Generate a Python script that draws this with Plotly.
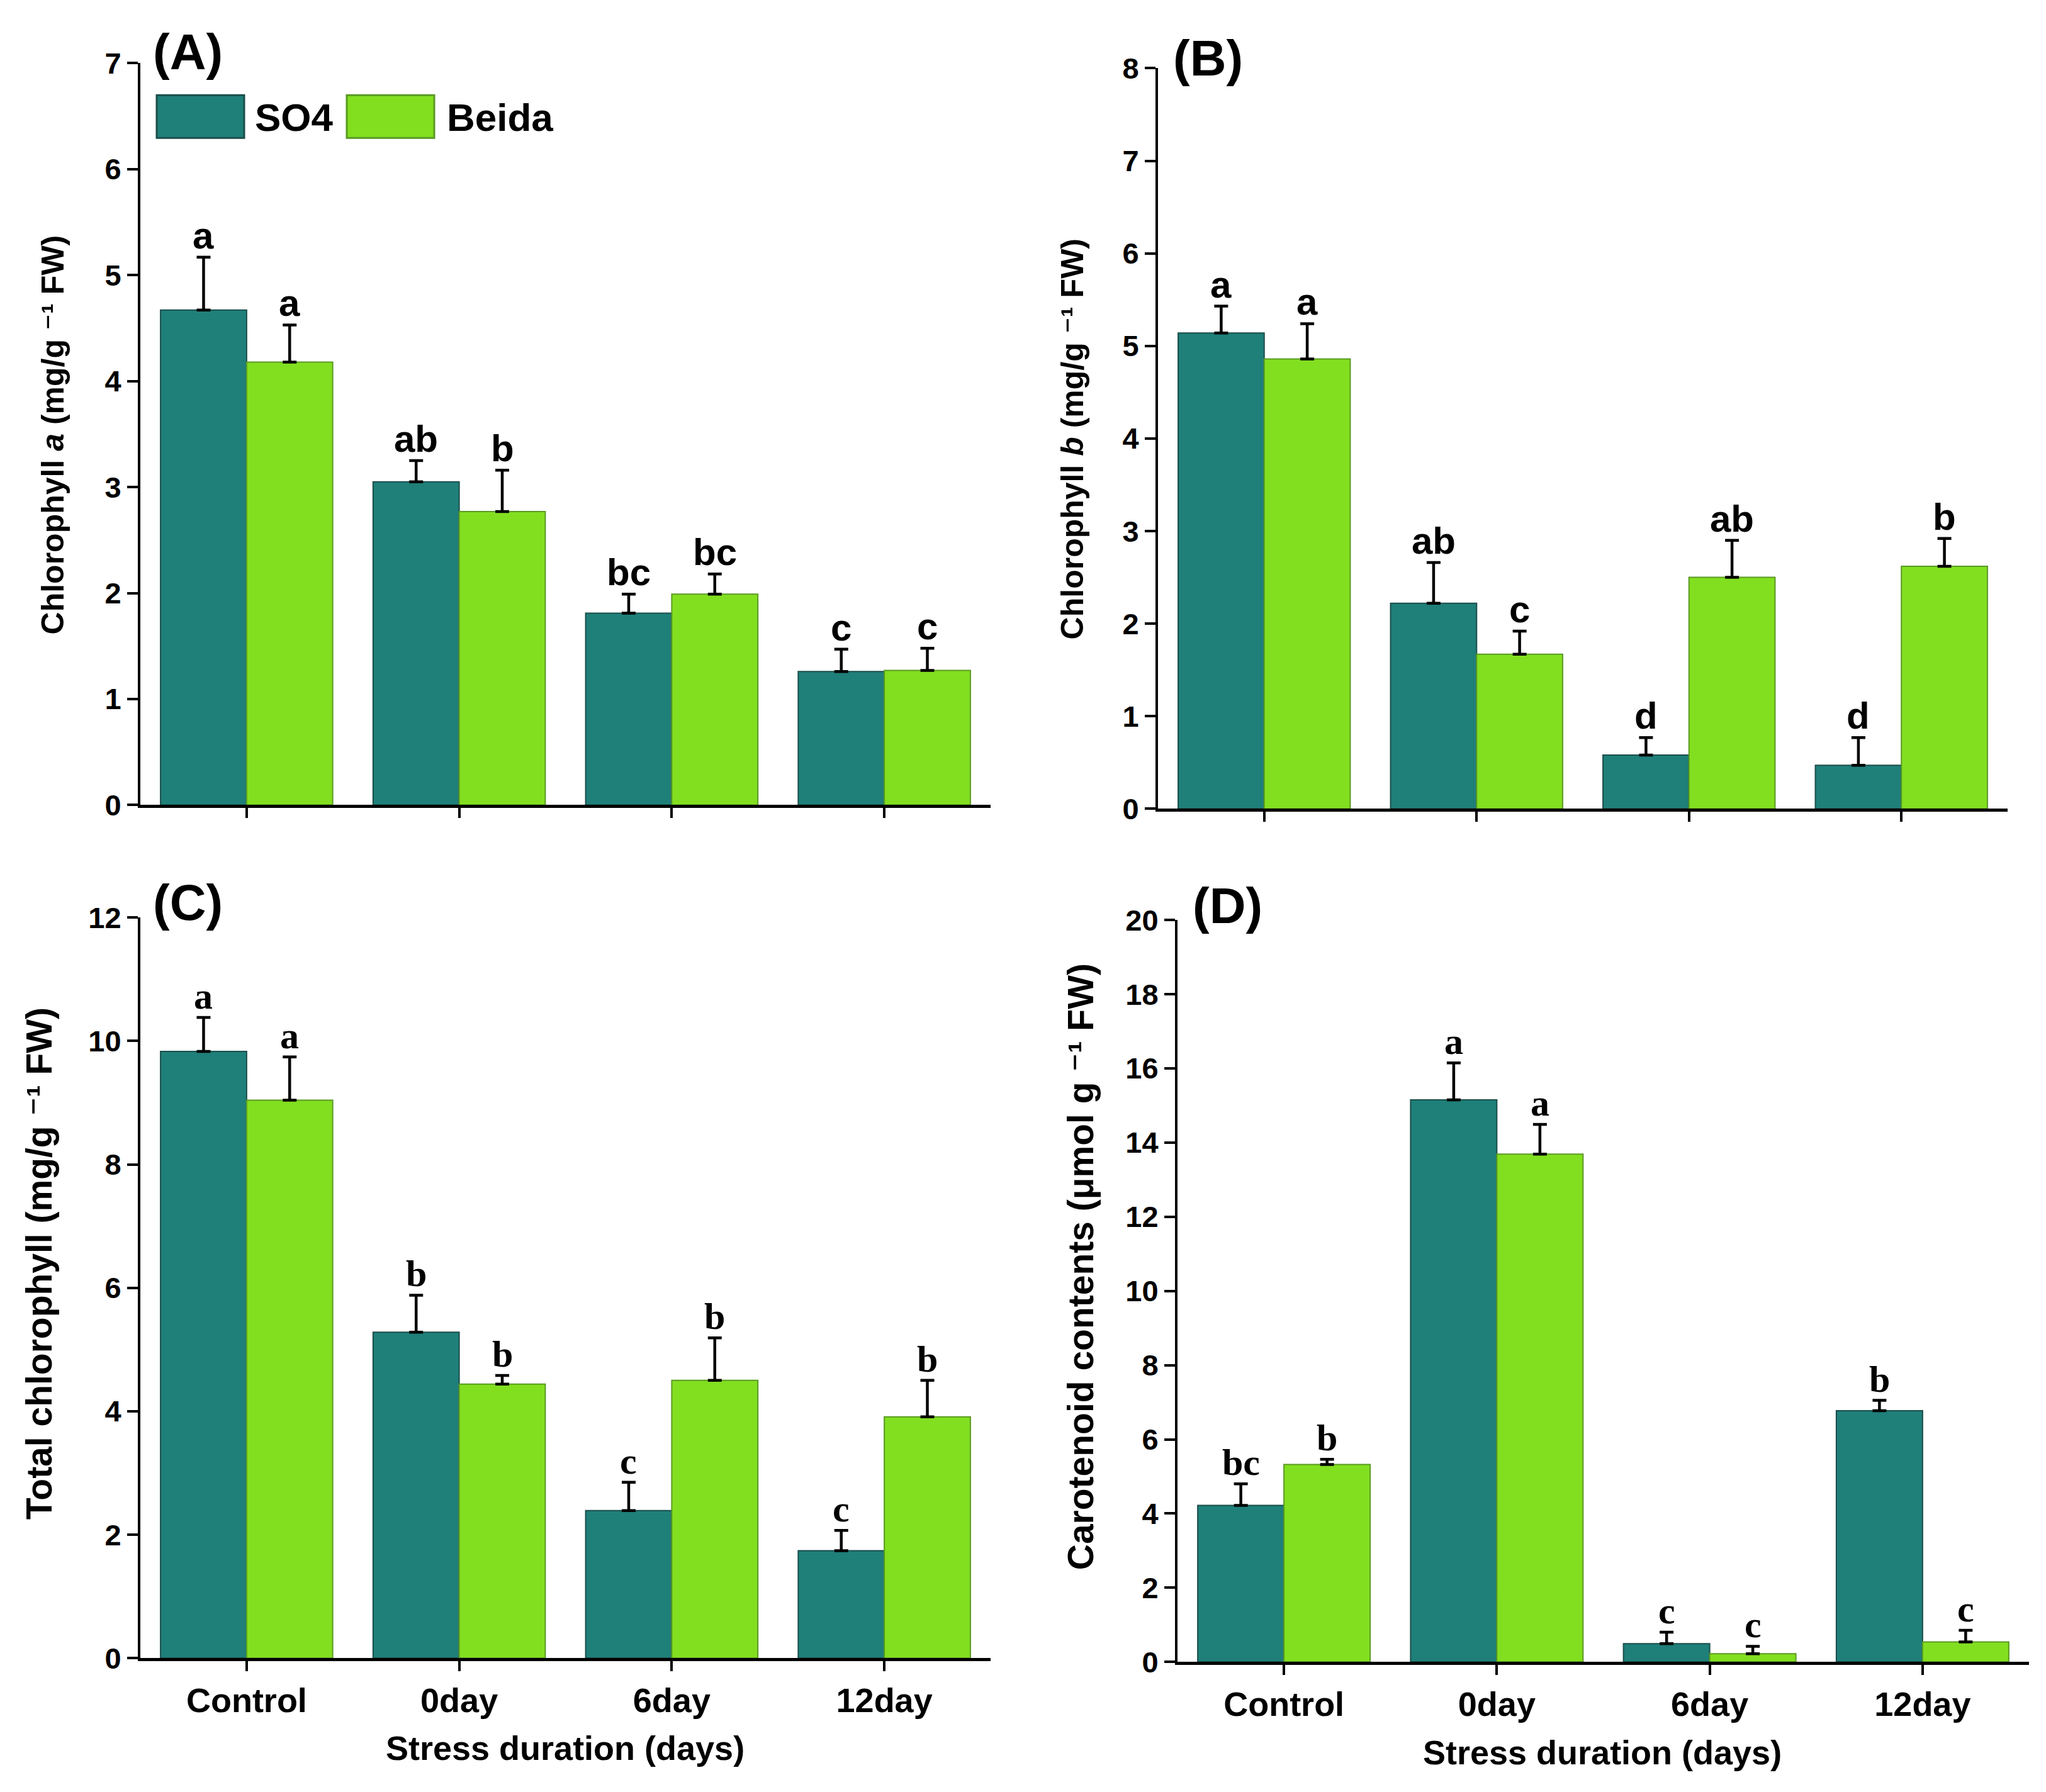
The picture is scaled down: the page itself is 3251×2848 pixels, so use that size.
import plotly.graph_objects as go

# ---------------- data ----------------
categories = ["Control", "0day", "6day", "12day"]

chla_so4 = [4.67, 3.05, 1.81, 1.26]
chla_so4_err = [0.50, 0.20, 0.18, 0.21]
chla_beida = [4.18, 2.77, 1.99, 1.27]
chla_beida_err = [0.35, 0.39, 0.19, 0.21]
chla_so4_let = ["a", "ab", "bc", "c"]
chla_beida_let = ["a", "b", "bc", "c"]

chlb_so4 = [5.14, 2.22, 0.58, 0.47]
chlb_so4_err = [0.29, 0.44, 0.19, 0.30]
chlb_beida = [4.86, 1.67, 2.50, 2.62]
chlb_beida_err = [0.38, 0.25, 0.40, 0.30]
chlb_so4_let = ["a", "ab", "d", "d"]
chlb_beida_let = ["a", "c", "ab", "b"]

tot_so4 = [9.83, 5.28, 2.39, 1.74]
tot_so4_err = [0.55, 0.60, 0.46, 0.33]
tot_beida = [9.04, 4.44, 4.50, 3.91]
tot_beida_err = [0.70, 0.14, 0.69, 0.59]
tot_so4_let = ["a", "b", "c", "c"]
tot_beida_let = ["a", "b", "b", "b"]

car_so4 = [4.22, 15.15, 0.49, 6.77]
car_so4_err = [0.58, 1.00, 0.31, 0.28]
car_beida = [5.32, 13.69, 0.22, 0.54]
car_beida_err = [0.14, 0.80, 0.20, 0.31]
car_so4_let = ["bc", "a", "c", "b"]
car_beida_let = ["b", "a", "c", "c"]

series_names = ["SO4", "Beida"]

# ---------------- style ----------------
W, H = 3251, 2848
C_SO4 = "#1f7f79"
C_BEIDA = "#82df20"
L_SO4 = "#1b4e4b"
L_BEIDA = "#5a9a22"
SANS = "Arial, Liberation Sans, DejaVu Sans, sans-serif"
SERIF = "Times New Roman, Liberation Serif, serif"
BARGAP = 0.19


def px(x):
    return (x - 8) / W


def py(y):
    return 1 - (1.0173 * y - 35.1) / H


panels = [
    dict(key="", so4=chla_so4, so4e=chla_so4_err, be=chla_beida, bee=chla_beida_err,
         ls=chla_so4_let, lb=chla_beida_let, ymax=7, dtick=1, xd=(223, 1574), yd=(1281, 100),
         lfont=SANS, labels=False, label="(A)", lab_xy=(241, 82),
         ytitle="Chlorophyll <i>a</i> (mg/g ⁻¹ FW)", yt_xy=(84, 692), ytsize=50),
    dict(key="2", so4=chlb_so4, so4e=chlb_so4_err, be=chlb_beida, bee=chlb_beida_err,
         ls=chlb_so4_let, lb=chlb_beida_let, ymax=8, dtick=1, xd=(1840, 3190), yd=(1287, 108),
         lfont=SANS, labels=False, label="(B)", lab_xy=(1862, 92),
         ytitle="Chlorophyll <i>b</i> (mg/g ⁻¹ FW)", yt_xy=(1704, 699), ytsize=50),
    dict(key="3", so4=tot_so4, so4e=tot_so4_err, be=tot_beida, bee=tot_beida_err,
         ls=tot_so4_let, lb=tot_beida_let, ymax=12, dtick=2, xd=(223, 1574), yd=(2639, 1460),
         lfont=SERIF, labels=True, label="(C)", lab_xy=(241, 1436),
         ytitle="Total chlorophyll (mg/g ⁻¹ FW)", yt_xy=(62, 2011), ytsize=57),
    dict(key="4", so4=car_so4, so4e=car_so4_err, be=car_beida, bee=car_beida_err,
         ls=car_so4_let, lb=car_beida_let, ymax=20, dtick=2, xd=(1871, 3224), yd=(2645, 1464),
         lfont=SERIF, labels=True, label="(D)", lab_xy=(1893, 1441),
         ytitle="Carotenoid contents (μmol g ⁻¹ FW)", yt_xy=(1717, 2016), ytsize=57),
]

fig = go.Figure()
annotations = []
shapes = []
layout = {}

off = (1 - BARGAP) / 4.0

for p in panels:
    k = p["key"]
    xref = "x" + k
    yref = "y" + k
    for name, vals, errs, col, lcol in [
        (series_names[0], p["so4"], p["so4e"], C_SO4, L_SO4),
        (series_names[1], p["be"], p["bee"], C_BEIDA, L_BEIDA),
    ]:
        fig.add_trace(go.Bar(
            x=categories, y=vals, name=name, xaxis=xref, yaxis=yref,
            marker=dict(color=col, line=dict(color=lcol, width=2)),
            error_y=dict(type="data", symmetric=False, array=errs,
                         arrayminus=[0] * len(errs), color="black",
                         thickness=4.5, width=11),
            showlegend=False,
        ))
    # significance letters
    for i in range(len(categories)):
        for sgn, vals, errs, lets in [(-1, p["so4"], p["so4e"], p["ls"]),
                                      (1, p["be"], p["bee"], p["lb"])]:
            annotations.append(dict(
                x=i + sgn * off, y=vals[i] + errs[i], xref=xref, yref=yref,
                text=lets[i], showarrow=False, yanchor="bottom", xanchor="center",
                yshift=0, borderpad=0,
                font=dict(family=p["lfont"], size=60, color="black", weight="bold"),
            ))
    # panel label
    annotations.append(dict(
        x=px(p["lab_xy"][0]), y=py(p["lab_xy"][1]), xref="paper", yref="paper",
        text=p["label"], showarrow=False, xanchor="left", yanchor="middle",
        font=dict(family=SANS, size=80, color="black", weight="bold"),
    ))
    # y-axis title
    annotations.append(dict(
        x=px(p["yt_xy"][0]), y=py(p["yt_xy"][1]), xref="paper", yref="paper",
        text=p["ytitle"], showarrow=False, textangle=-90,
        xanchor="center", yanchor="middle",
        font=dict(family=SANS, size=p["ytsize"], color="black", weight="bold"),
    ))
    xa = dict(
        domain=[px(p["xd"][0]), px(p["xd"][1])], anchor=yref, type="category",
        range=[-0.5, len(categories) - 0.5], showline=True, linecolor="black", linewidth=5,
        ticks="outside", ticklen=16, tickwidth=4, tickcolor="black",
        showticklabels=p["labels"], showgrid=False, zeroline=False,
        tickfont=dict(family=SANS, size=54, color="black", weight="bold"),
        fixedrange=True,
    )
    ya = dict(
        domain=[py(p["yd"][0]), py(p["yd"][1])], anchor=xref,
        range=[0, p["ymax"]], dtick=p["dtick"], tick0=0,
        showline=True, linecolor="black", linewidth=4,
        ticks="outside", ticklen=17, tickwidth=4, tickcolor="black",
        showgrid=False, zeroline=False,
        tickfont=dict(family=SANS, size=47, color="black", weight="bold"),
        fixedrange=True,
    )
    layout["xaxis" + k] = xa
    layout["yaxis" + k] = ya

# x-axis titles (bottom panels)
for xc, yc in [(898, 2782), (2546, 2789)]:
    annotations.append(dict(
        x=px(xc), y=py(yc), xref="paper", yref="paper",
        text="Stress duration (days)", showarrow=False,
        xanchor="center", yanchor="middle",
        font=dict(family=SANS, size=54, color="black", weight="bold"),
    ))

# legend (panel A), drawn as swatches + text
leg = [(series_names[0], C_SO4, L_SO4, 249, 388, 403),
       (series_names[1], C_BEIDA, L_BEIDA, 551, 690, 708)]
for name, col, lcol, x0, x1, tx in leg:
    shapes.append(dict(type="rect", xref="paper", yref="paper",
                       x0=px(x0), x1=px(x1), y0=py(219), y1=py(151),
                       fillcolor=col, line=dict(color=lcol, width=3)))
    annotations.append(dict(
        x=px(tx), y=py(186), xref="paper", yref="paper", text=name,
        showarrow=False, xanchor="left", yanchor="middle",
        font=dict(family=SANS, size=62, color="black", weight="bold"),
    ))

fig.update_layout(
    width=W, height=H,
    margin=dict(l=0, r=0, t=0, b=0),
    paper_bgcolor="white", plot_bgcolor="white",
    barmode="group", bargap=BARGAP, bargroupgap=0,
    annotations=annotations, shapes=shapes,
    showlegend=False,
    **layout,
)

fig.write_html("out.html")
